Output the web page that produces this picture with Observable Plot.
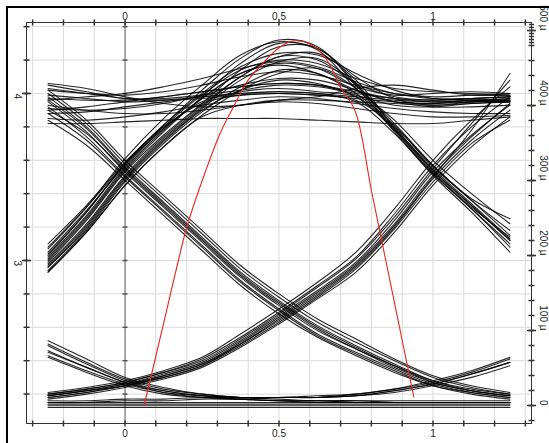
<!DOCTYPE html>
<html><head><meta charset="utf-8">
<script src="https://cdn.jsdelivr.net/npm/d3@7"></script>
<script src="https://cdn.jsdelivr.net/npm/@observablehq/plot@0.6"></script>
<style>
html,body{margin:0;padding:0;background:#fff;}
#wrap{position:relative;width:549px;height:443px;overflow:hidden;background:#fff;font-family:"Liberation Sans",Arial,sans-serif;}
#wrap svg{position:absolute;left:0;top:0;}
#border{position:absolute;left:6px;top:6px;width:600px;height:500px;border-top:2px solid #000;border-left:2px solid #000;}
</style></head><body><div id="wrap"></div>
<script>
// ---- sample positions (unit intervals) ----
const xGrid = [-0.25,-0.125,0,0.125,0.25,0.375,0.5,0.625,0.75,0.875,1,1.125,1.25];

// ---- traces, left axis units ----
const fallingTraces = [
  [3.98,3.80,3.56,3.35,3.14,2.93,2.76,2.61,2.49,2.38,2.28,2.23,2.20],
  [3.95,3.77,3.53,3.32,3.11,2.90,2.73,2.58,2.47,2.36,2.27,2.22,2.19],
  [3.92,3.74,3.51,3.30,3.09,2.88,2.71,2.56,2.45,2.35,2.26,2.21,2.18],
  [4.00,3.82,3.58,3.37,3.16,2.95,2.78,2.63,2.51,2.40,2.30,2.24,2.20],
  [3.88,3.72,3.50,3.29,3.08,2.87,2.70,2.55,2.44,2.34,2.25,2.21,2.18],
  [3.96,3.79,3.55,3.34,3.13,2.92,2.75,2.60,2.48,2.37,2.28,2.22,2.19],
  [3.84,3.69,3.48,3.27,3.06,2.85,2.68,2.54,2.43,2.33,2.25,2.20,2.17],
  [4.02,3.84,3.60,3.39,3.18,2.97,2.80,2.65,2.53,2.41,2.31,2.25,2.21],
  [3.90,3.76,3.54,3.33,3.12,2.91,2.74,2.59,2.47,2.37,2.27,2.22,2.19]
];
const risingTraces = [
  [2.19,2.22,2.26,2.32,2.39,2.52,2.67,2.82,2.99,3.24,3.53,3.75,3.93],
  [2.18,2.21,2.25,2.30,2.37,2.50,2.64,2.79,2.96,3.20,3.49,3.72,3.90],
  [2.20,2.23,2.27,2.33,2.41,2.54,2.69,2.85,3.02,3.28,3.57,3.80,3.98],
  [2.17,2.20,2.24,2.29,2.36,2.48,2.62,2.77,2.93,3.17,3.45,3.68,3.86],
  [2.21,2.24,2.28,2.34,2.42,2.56,2.71,2.87,3.05,3.31,3.60,3.84,4.04],
  [2.19,2.22,2.26,2.31,2.38,2.51,2.66,2.81,2.98,3.22,3.51,3.74,3.94],
  [2.18,2.21,2.25,2.31,2.38,2.50,2.65,2.80,2.97,3.21,3.50,3.78,4.12],
  [2.20,2.23,2.27,2.33,2.40,2.53,2.68,2.84,3.01,3.26,3.55,3.82,4.08],
  [2.19,2.22,2.25,2.30,2.37,2.49,2.63,2.78,2.95,3.19,3.47,3.70,3.84]
];
const pulseTraces = [
  [2.99,3.24,3.53,3.75,3.94,4.14,4.28,4.27,4.06,3.80,3.54,3.33,3.12],
  [2.96,3.20,3.49,3.72,3.91,4.08,4.19,4.21,4.05,3.78,3.52,3.31,3.08],
  [3.04,3.29,3.58,3.81,4.02,4.21,4.32,4.28,4.05,3.82,3.57,3.36,3.18],
  [2.93,3.17,3.45,3.68,3.87,4.02,4.12,4.15,4.03,3.77,3.51,3.29,3.05],
  [3.07,3.32,3.61,3.85,4.05,4.23,4.31,4.26,4.03,3.84,3.60,3.40,3.22],
  [2.98,3.22,3.51,3.74,3.93,4.10,4.22,4.24,4.08,3.79,3.53,3.32,3.14],
  [3.01,3.26,3.55,3.78,3.97,4.12,4.17,4.12,4.00,3.81,3.56,3.37,3.25]
];
const overshootTraces = [
  [2.97,3.21,3.50,3.73,3.92,4.10,4.22,4.20,4.06,3.98,3.96,3.97,3.98],
  [3.00,3.25,3.54,3.77,3.98,4.18,4.30,4.27,4.10,3.97,3.93,3.95,3.97],
  [2.94,3.18,3.47,3.70,3.89,4.04,4.14,4.12,4.02,3.95,3.94,3.96,3.96],
  [3.03,3.29,3.58,3.81,4.00,4.16,4.24,4.23,4.12,4.02,3.97,3.96,3.95],
  [2.96,3.19,3.48,3.71,3.90,4.02,4.08,4.06,3.99,3.93,3.92,3.94,3.95],
  [3.08,3.32,3.58,3.79,3.97,4.12,4.18,4.15,4.04,3.99,4.00,4.01,4.00],
  [3.05,3.30,3.57,3.80,3.99,4.14,4.20,4.18,4.09,4.03,4.01,4.00,3.99]
];
const highTraces = [
  [4.05,4.01,3.97,3.97,3.99,4.02,4.05,4.04,4.00,3.97,3.96,3.97,3.98],
  [3.90,3.92,3.95,3.98,4.01,4.04,4.06,4.05,4.01,3.97,3.95,3.95,3.96],
  [3.99,3.97,3.95,3.96,3.98,4.00,4.01,4.00,3.98,3.96,3.95,3.96,3.97],
  [3.85,3.84,3.86,3.89,3.93,3.96,3.98,3.97,3.94,3.91,3.89,3.88,3.88],
  [4.02,4.00,3.99,4.01,4.05,4.10,4.13,4.11,4.05,4.00,3.98,3.99,4.00],
  [3.93,3.90,3.88,3.88,3.90,3.93,3.95,3.94,3.91,3.88,3.86,3.86,3.87],
  [4.06,4.03,3.98,3.94,3.92,3.93,3.96,3.98,4.03,4.05,4.02,3.99,3.99],
  [3.82,3.82,3.83,3.84,3.85,3.85,3.85,3.84,3.83,3.82,3.82,3.84,3.86],
  [3.96,3.98,4.00,4.04,4.09,4.15,4.19,4.16,4.07,4.00,3.97,3.97,3.98],
  [3.91,3.90,3.91,3.94,3.99,4.05,4.09,4.08,4.02,3.95,3.92,3.92,3.93]
];
const highFallTraces = [
  [3.97,3.96,3.96,3.98,4.01,4.04,4.06,4.05,3.98,3.78,3.54,3.33,3.12],
  [3.88,3.89,3.92,3.95,3.98,4.00,4.01,4.00,3.95,3.76,3.52,3.31,3.10],
  [4.03,4.00,3.97,3.96,3.97,3.99,4.00,3.99,3.96,3.80,3.57,3.36,3.15],
  [3.02,3.27,3.56,3.79,3.95,4.01,4.03,4.01,3.98,3.79,3.55,3.34,3.13]
];
const riseHighTraces = [
  [2.93,3.17,3.45,3.68,3.86,3.93,3.96,3.96,3.95,3.94,3.93,3.94,3.95],
  [3.10,3.33,3.59,3.80,3.94,3.99,4.00,3.99,3.97,3.95,3.94,3.95,3.96]
];
const lowTailTraces = [
  [2.49,2.38,2.28,2.22,2.19,2.17,2.16,2.16,2.16,2.15,2.15,2.15,2.15],
  [2.45,2.36,2.27,2.21,2.18,2.17,2.16,2.15,2.15,2.15,2.15,2.15,2.15],
  [2.52,2.41,2.30,2.24,2.20,2.18,2.17,2.16,2.16,2.16,2.16,2.16,2.16],
  [2.42,2.33,2.25,2.20,2.18,2.17,2.16,2.16,2.15,2.15,2.15,2.15,2.15]
];
const lowTailRiseTraces = [
  [2.50,2.39,2.29,2.23,2.20,2.18,2.18,2.18,2.19,2.22,2.26,2.32,2.39],
  [2.46,2.36,2.27,2.22,2.19,2.18,2.18,2.18,2.20,2.23,2.28,2.34,2.42],
  [2.43,2.34,2.26,2.21,2.19,2.18,2.18,2.18,2.19,2.21,2.25,2.30,2.37]
];
const lowRiseTraces = [
  [2.15,2.15,2.16,2.16,2.17,2.17,2.18,2.18,2.19,2.22,2.26,2.32,2.39],
  [2.16,2.16,2.17,2.17,2.18,2.18,2.18,2.19,2.20,2.23,2.27,2.33,2.41]
];
const lowTraces = [
  [2.13,2.13,2.13,2.13,2.13,2.13,2.13,2.13,2.13,2.13,2.13,2.13,2.13],
  [2.14,2.14,2.14,2.14,2.14,2.14,2.14,2.14,2.14,2.14,2.14,2.14,2.14],
  [2.12,2.12,2.12,2.12,2.12,2.12,2.12,2.12,2.12,2.12,2.12,2.12,2.12],
  [2.15,2.15,2.15,2.15,2.15,2.15,2.15,2.15,2.15,2.15,2.15,2.15,2.15]
];

// ---- red curve, right axis units (µ) ----
const redX  = [0.062,0.087,0.13,0.173,0.20,0.243,0.308,0.352,0.395,0.44,0.50,0.546,0.60,0.655,0.70,0.747,0.80,0.85,0.90,0.938];
const redMu = [0,43,118,193,237,291,362,398,431,453,477,486,482,461,424,393,287,187,87,11];

// ---- ticks & labels ----
const xMinorTicks = [-0.3,-0.2,-0.1,0,0.1,0.2,0.3,0.4,0.5,0.6,0.7,0.8,0.9,1,1.1,1.2,1.3];
const xLabels = [0, 0.5, 1];
const yMinorTicks = [2.2,2.4,2.6,2.8,3,3.2,3.4,3.6,3.8,4,4.2,4.4];
const yLabels = [3, 4];
const rightTicks = [-20,0,20,40,60,80,100,120,140,160,180,200,220,240,260,280,300,320,340,360,380,400,420,440,460,480,500];
const rightDenseTicks = [484,488,492,496,504,508];
const rightLabels = [0,100,200,300,400,500];

const families = [fallingTraces, risingTraces, pulseTraces, overshootTraces, highTraces, highFallTraces, riseHighTraces, lowTailTraces, lowTailRiseTraces, lowRiseTraces, lowTraces];
const traceRows = [];
families.forEach((fam, f) => fam.forEach((vals, i) => vals.forEach((v, j) => traceRows.push({id: f + "-" + i, x: xGrid[j], y: v}))));
const redRows = redX.map((x, i) => ({x, y: redMu[i]}));

const vTick = {draw(ctx, size){ const h = Math.sqrt(size/Math.PI); ctx.moveTo(0,-h); ctx.lineTo(0,h); }};
const hTick = {draw(ctx, size){ const h = Math.sqrt(size/Math.PI); ctx.moveTo(-h,0); ctx.lineTo(h,0); }};

const common = {width: 549, height: 443, marginLeft: 26, marginRight: 18, marginTop: 22, marginBottom: 20,
  style: {background: "transparent", fontFamily: '"Liberation Sans", Arial, sans-serif', overflow: "visible"}};
const font = {fontSize: 10, fill: "#222"};

const p1 = Plot.plot({
  ...common,
  x: {domain: [-0.32, 1.32], axis: null},
  y: {domain: [2.024, 4.425], axis: null},
  marks: [
    Plot.gridX(xMinorTicks, {stroke: "#d9d9d9", strokeOpacity: 1}),
    Plot.gridY(yMinorTicks, {stroke: "#d9d9d9", strokeOpacity: 1}),
    Plot.ruleX([0], {stroke: "#666"}),
    Plot.dot(yMinorTicks, {x: () => 0, y: d => d, symbol: hTick, r: 2.5, stroke: "#555", fill: "none"}),
    Plot.line(traceRows, {x: "x", y: "y", z: "id", curve: "catmull-rom", stroke: "#000", strokeWidth: 1.1, strokeOpacity: 0.85}),
    Plot.frame({stroke: "#333"}),
    Plot.dot(xMinorTicks, {x: d => d, frameAnchor: "top", symbol: vTick, r: 3, stroke: "#333", fill: "none"}),
    Plot.dot(xMinorTicks, {x: d => d, frameAnchor: "bottom", symbol: vTick, r: 3, stroke: "#333", fill: "none"}),
    Plot.dot(yMinorTicks, {y: d => d, frameAnchor: "left", symbol: hTick, r: 3, stroke: "#333", fill: "none"}),
    Plot.dot(yLabels, {y: d => d, frameAnchor: "left", symbol: hTick, r: 4.5, stroke: "#333", fill: "none"}),
    Plot.text(xLabels, {x: d => d, frameAnchor: "top", dy: -10, text: d => String(d), ...font}),
    Plot.text(xLabels, {x: d => d, frameAnchor: "bottom", dy: 13, text: d => String(d), ...font}),
    Plot.text(yLabels, {y: d => d, frameAnchor: "left", dx: -9, rotate: 90, text: d => String(d), ...font})
  ]
});

const p2 = Plot.plot({
  ...common,
  x: {domain: [-0.32, 1.32], axis: null},
  y: {domain: [-24, 510.67], axis: null},
  marks: [
    Plot.line(redRows, {x: "x", y: "y", curve: "catmull-rom", stroke: "#e5281e", strokeWidth: 1.1}),
    Plot.dot(rightTicks, {y: d => d, frameAnchor: "right", symbol: hTick, r: 3, stroke: "#333", fill: "none"}),
    Plot.dot(rightDenseTicks, {y: d => d, frameAnchor: "right", symbol: hTick, r: 2.5, stroke: "#333", fill: "none"}),
    Plot.dot(rightLabels, {y: d => d, frameAnchor: "right", symbol: hTick, r: 4.5, stroke: "#333", fill: "none"}),
    Plot.text(rightLabels, {y: d => d, frameAnchor: "right", dx: 12, rotate: 90, text: d => d === 0 ? "0" : d + " µ", ...font})
  ]
});

const wrap = document.getElementById("wrap");
wrap.appendChild(p1);
wrap.appendChild(p2);
const border = document.createElement("div");
border.id = "border";
wrap.appendChild(border);
</script>
</body></html>
